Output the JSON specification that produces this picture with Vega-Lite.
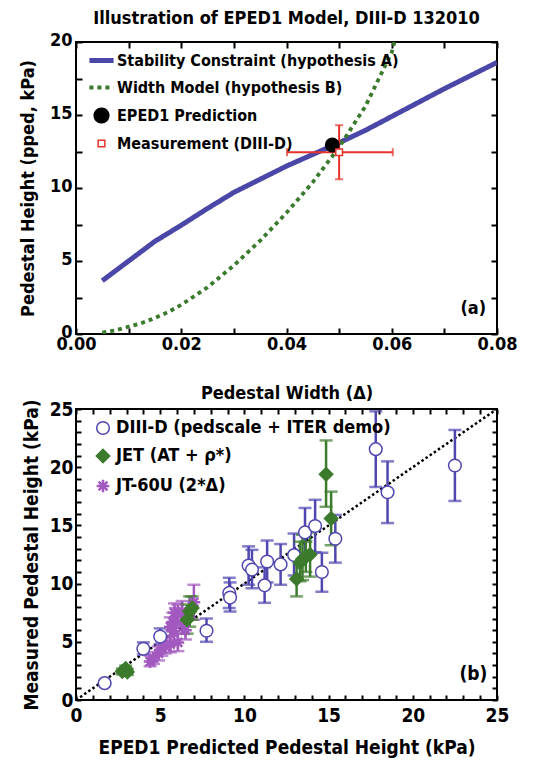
{
  "$schema": "https://vega.github.io/schema/vega-lite/v6.json",
  "background": "white",
  "padding": {"left": 18, "top": 9, "right": 10, "bottom": 5},
  "bounds": "flush",
  "spacing": 75,
  "resolve": {
    "scale": {"stroke": "independent", "fill": "independent", "shape": "independent", "size": "independent", "strokeWidth": "independent", "strokeDash": "independent", "color": "independent"},
    "legend": {"stroke": "independent", "fill": "independent", "shape": "independent", "size": "independent", "strokeWidth": "independent", "strokeDash": "independent", "color": "independent"}
  },
  "config": {
    "font": "Liberation Sans Narrow, DejaVu Sans Condensed, Liberation Sans, sans-serif",
    "view": {"stroke": "black", "strokeWidth": 2},
    "title": {"fontWeight": "bold", "color": "black"},
    "axis": {
      "labelFontWeight": "bold", "titleFontWeight": "bold", "labelColor": "black", "titleColor": "black",
      "domain": false, "grid": false, "tickColor": "black", "tickWidth": 2, "tickSize": -6,
      "labelPadding": 10, "labelFlush": false, "labelOverlap": false
    },
    "legend": {"labelFontWeight": "bold", "labelColor": "black", "labelLimit": 500, "padding": 0}
  },
  "datasets": {
    "curves": [
      {"series": "Stability Constraint (hypothesis A)", "x": 0.005, "y": 3.65},
      {"series": "Stability Constraint (hypothesis A)", "x": 0.01, "y": 5.0},
      {"series": "Stability Constraint (hypothesis A)", "x": 0.015, "y": 6.35},
      {"series": "Stability Constraint (hypothesis A)", "x": 0.02, "y": 7.45},
      {"series": "Stability Constraint (hypothesis A)", "x": 0.025, "y": 8.6},
      {"series": "Stability Constraint (hypothesis A)", "x": 0.03, "y": 9.7},
      {"series": "Stability Constraint (hypothesis A)", "x": 0.035, "y": 10.6},
      {"series": "Stability Constraint (hypothesis A)", "x": 0.04, "y": 11.5},
      {"series": "Stability Constraint (hypothesis A)", "x": 0.045, "y": 12.3},
      {"series": "Stability Constraint (hypothesis A)", "x": 0.05, "y": 13.1},
      {"series": "Stability Constraint (hypothesis A)", "x": 0.055, "y": 13.95},
      {"series": "Stability Constraint (hypothesis A)", "x": 0.06, "y": 14.9},
      {"series": "Stability Constraint (hypothesis A)", "x": 0.065, "y": 15.85},
      {"series": "Stability Constraint (hypothesis A)", "x": 0.07, "y": 16.8},
      {"series": "Stability Constraint (hypothesis A)", "x": 0.075, "y": 17.7},
      {"series": "Stability Constraint (hypothesis A)", "x": 0.08, "y": 18.6},
      {"series": "Width Model (hypothesis B)", "x": 0.005, "y": 0.1},
      {"series": "Width Model (hypothesis B)", "x": 0.0075, "y": 0.25},
      {"series": "Width Model (hypothesis B)", "x": 0.01, "y": 0.5},
      {"series": "Width Model (hypothesis B)", "x": 0.0125, "y": 0.75},
      {"series": "Width Model (hypothesis B)", "x": 0.015, "y": 1.1},
      {"series": "Width Model (hypothesis B)", "x": 0.0175, "y": 1.5},
      {"series": "Width Model (hypothesis B)", "x": 0.02, "y": 2.0},
      {"series": "Width Model (hypothesis B)", "x": 0.025, "y": 3.2},
      {"series": "Width Model (hypothesis B)", "x": 0.03, "y": 4.7},
      {"series": "Width Model (hypothesis B)", "x": 0.035, "y": 6.4},
      {"series": "Width Model (hypothesis B)", "x": 0.04, "y": 8.3},
      {"series": "Width Model (hypothesis B)", "x": 0.045, "y": 10.4},
      {"series": "Width Model (hypothesis B)", "x": 0.05, "y": 12.8},
      {"series": "Width Model (hypothesis B)", "x": 0.055, "y": 15.6},
      {"series": "Width Model (hypothesis B)", "x": 0.06, "y": 19.3},
      {"series": "Width Model (hypothesis B)", "x": 0.0605, "y": 20}
    ],
    "meas": [{"x": 0.05, "y": 12.45, "xlo": 0.0401, "xhi": 0.0602, "ylo": 10.6, "yhi": 14.3}],
    "eped": [
      {"series": "EPED1 Prediction", "x": 0.0487, "y": 12.95},
      {"series": "Measurement (DIII-D)", "x": 0.05, "y": 12.45}
    ],
    "labelA": [{"x": 0.0755, "y": 1.7, "t": "(a)"}],
    "labelB": [{"x": 23.6, "y": 2.2, "t": "(b)"}],
    "diag": [{"x": 0, "y": 0}, {"x": 25, "y": 25}],
    "bdata": [
      {"s": "JT-60U (2*Δ)", "x": 4.4, "y": 3.3, "lo": 2.9, "hi": 3.8},
      {"s": "JT-60U (2*Δ)", "x": 4.6, "y": 3.6, "lo": 3.1, "hi": 4.1},
      {"s": "JT-60U (2*Δ)", "x": 4.9, "y": 4.0, "lo": 3.4, "hi": 4.6},
      {"s": "JT-60U (2*Δ)", "x": 5.1, "y": 4.4, "lo": 3.8, "hi": 5.0},
      {"s": "JT-60U (2*Δ)", "x": 5.3, "y": 4.6, "lo": 4.0, "hi": 5.3},
      {"s": "JT-60U (2*Δ)", "x": 5.6, "y": 4.8, "lo": 4.1, "hi": 5.5},
      {"s": "JT-60U (2*Δ)", "x": 6.05, "y": 4.95, "lo": 4.2, "hi": 5.7},
      {"s": "JT-60U (2*Δ)", "x": 5.8, "y": 5.9, "lo": 5.1, "hi": 6.7},
      {"s": "JT-60U (2*Δ)", "x": 5.6, "y": 6.3, "lo": 5.5, "hi": 7.1},
      {"s": "JT-60U (2*Δ)", "x": 5.75, "y": 6.7, "lo": 5.9, "hi": 7.5},
      {"s": "JT-60U (2*Δ)", "x": 5.9, "y": 7.1, "lo": 6.3, "hi": 7.9},
      {"s": "JT-60U (2*Δ)", "x": 6.05, "y": 7.35, "lo": 6.5, "hi": 8.2},
      {"s": "JT-60U (2*Δ)", "x": 6.3, "y": 7.6, "lo": 6.7, "hi": 8.5},
      {"s": "JT-60U (2*Δ)", "x": 5.85, "y": 7.5, "lo": 6.7, "hi": 8.3},
      {"s": "JT-60U (2*Δ)", "x": 6.3, "y": 6.5, "lo": 5.7, "hi": 7.3},
      {"s": "JT-60U (2*Δ)", "x": 6.5, "y": 6.0, "lo": 5.2, "hi": 6.8},
      {"s": "JT-60U (2*Δ)", "x": 7.0, "y": 8.4, "lo": 6.9, "hi": 9.9},
      {"s": "DIII-D (pedscale + ITER demo)", "x": 1.7, "y": 1.45, "lo": 1.45, "hi": 1.45},
      {"s": "DIII-D (pedscale + ITER demo)", "x": 4.0, "y": 4.4, "lo": 3.9, "hi": 4.95},
      {"s": "DIII-D (pedscale + ITER demo)", "x": 5.0, "y": 5.45, "lo": 4.8, "hi": 6.15},
      {"s": "DIII-D (pedscale + ITER demo)", "x": 7.75, "y": 5.95, "lo": 5.0, "hi": 7.0},
      {"s": "DIII-D (pedscale + ITER demo)", "x": 9.1, "y": 9.2, "lo": 7.9, "hi": 10.5},
      {"s": "DIII-D (pedscale + ITER demo)", "x": 9.15, "y": 8.8, "lo": 7.6, "hi": 10.1},
      {"s": "DIII-D (pedscale + ITER demo)", "x": 10.25, "y": 11.55, "lo": 9.9, "hi": 13.2},
      {"s": "DIII-D (pedscale + ITER demo)", "x": 10.45, "y": 11.2, "lo": 9.6, "hi": 12.9},
      {"s": "DIII-D (pedscale + ITER demo)", "x": 11.2, "y": 9.85, "lo": 8.35, "hi": 11.4},
      {"s": "DIII-D (pedscale + ITER demo)", "x": 11.35, "y": 11.9, "lo": 10.1, "hi": 13.7},
      {"s": "DIII-D (pedscale + ITER demo)", "x": 12.15, "y": 11.65, "lo": 9.9, "hi": 13.4},
      {"s": "DIII-D (pedscale + ITER demo)", "x": 12.95, "y": 12.45, "lo": 10.7, "hi": 14.3},
      {"s": "DIII-D (pedscale + ITER demo)", "x": 13.6, "y": 14.4, "lo": 12.2, "hi": 16.5},
      {"s": "DIII-D (pedscale + ITER demo)", "x": 14.2, "y": 14.95, "lo": 12.7, "hi": 17.2},
      {"s": "DIII-D (pedscale + ITER demo)", "x": 14.6, "y": 11.0, "lo": 9.3, "hi": 12.65},
      {"s": "DIII-D (pedscale + ITER demo)", "x": 15.4, "y": 13.85, "lo": 11.8, "hi": 15.9},
      {"s": "DIII-D (pedscale + ITER demo)", "x": 17.8, "y": 21.55, "lo": 18.3, "hi": 24.8},
      {"s": "DIII-D (pedscale + ITER demo)", "x": 18.5, "y": 17.85, "lo": 15.2, "hi": 20.5},
      {"s": "DIII-D (pedscale + ITER demo)", "x": 22.5, "y": 20.15, "lo": 17.1, "hi": 23.2},
      {"s": "JET (AT + ρ*)", "x": 2.75, "y": 2.45, "lo": 2.2, "hi": 2.7},
      {"s": "JET (AT + ρ*)", "x": 2.95, "y": 2.7, "lo": 2.45, "hi": 2.95},
      {"s": "JET (AT + ρ*)", "x": 3.05, "y": 2.4, "lo": 2.15, "hi": 2.65},
      {"s": "JET (AT + ρ*)", "x": 6.6, "y": 6.9, "lo": 5.7, "hi": 8.2},
      {"s": "JET (AT + ρ*)", "x": 6.75, "y": 7.6, "lo": 6.3, "hi": 8.9},
      {"s": "JET (AT + ρ*)", "x": 6.9, "y": 7.9, "lo": 6.9, "hi": 8.9},
      {"s": "JET (AT + ρ*)", "x": 13.1, "y": 10.4, "lo": 8.9, "hi": 12.3},
      {"s": "JET (AT + ρ*)", "x": 13.3, "y": 11.8, "lo": 10.2, "hi": 13.6},
      {"s": "JET (AT + ρ*)", "x": 13.45, "y": 12.1, "lo": 10.3, "hi": 14.2},
      {"s": "JET (AT + ρ*)", "x": 13.9, "y": 12.5, "lo": 10.6, "hi": 14.4},
      {"s": "JET (AT + ρ*)", "x": 13.65, "y": 12.3, "lo": 11.0, "hi": 13.6},
      {"s": "JET (AT + ρ*)", "x": 14.85, "y": 19.4, "lo": 16.6, "hi": 22.3},
      {"s": "JET (AT + ρ*)", "x": 15.15, "y": 15.6, "lo": 13.3, "hi": 17.9}
    ]
  },
  "vconcat": [
    {
      "width": 421,
      "height": 292,
      "title": {"text": "Illustration of EPED1 Model, DIII-D 132010", "fontSize": 18, "offset": 3},
      "resolve": {"axis": {"x": "independent", "y": "independent"}},
      "layer": [
        {
          "data": {"name": "curves"},
          "mark": {"type": "line", "clip": true, "strokeCap": "butt"},
          "encoding": {
            "x": {"field": "x", "type": "quantitative", "scale": {"domain": [0, 0.08], "nice": false, "zero": false},
              "axis": {"values": [0, 0.01, 0.02, 0.03, 0.04, 0.05, 0.06, 0.07, 0.08], "format": ".2f",
                "labelExpr": "round(datum.value*100) % 2 == 0 ? datum.label : ''", "labelPadding": 7,
                "labelFontSize": 18, "title": "Pedestal Width (Δ)", "titleFontSize": 18, "titlePadding": 31}},
            "y": {"field": "y", "type": "quantitative", "scale": {"domain": [0, 20], "nice": false},
              "axis": {"values": [0, 2.5, 5, 7.5, 10, 12.5, 15, 17.5, 20],
                "labelExpr": "datum.value % 5 == 0 ? datum.label : ''", "labelOffset": -2,
                "labelFontSize": 18, "title": "Pedestal Height (pped, kPa)", "titleFontSize": 18, "titlePadding": 12}},
            "stroke": {"field": "series", "type": "nominal", "title": null,
              "scale": {"domain": ["Stability Constraint (hypothesis A)", "Width Model (hypothesis B)", "EPED1 Prediction", "Measurement (DIII-D)"], "range": ["#4B47A8", "#3A7A2C", "black", "#E5332A"]},
              "legend": {"orient": "none", "legendX": 16, "legendY": 9, "labelFontSize": 16, "labelOffset": 6, "rowPadding": 7.5, "symbolSize": 180}},
            "strokeDash": {"field": "series", "type": "nominal", "title": null,
              "scale": {"domain": ["Stability Constraint (hypothesis A)", "Width Model (hypothesis B)", "EPED1 Prediction", "Measurement (DIII-D)"], "range": [[1, 0], [4, 4], [1, 0], [1, 0]]},
              "legend": {"orient": "none", "legendX": 16, "legendY": 9, "labelFontSize": 16, "labelOffset": 6, "rowPadding": 7.5, "symbolSize": 180}},
            "strokeWidth": {"field": "series", "type": "nominal", "title": null,
              "scale": {"type": "point", "padding": 0, "domain": ["Stability Constraint (hypothesis A)", "Width Model (hypothesis B)", "EPED1 Prediction", "Measurement (DIII-D)"], "range": [5, 1.5]},
              "legend": {"orient": "none", "legendX": 16, "legendY": 9, "labelFontSize": 16, "labelOffset": 6, "rowPadding": 7.5, "symbolSize": 180}}
          }
        },
        {
          "data": {"name": "meas"},
          "mark": {"type": "rule", "color": "#E5332A", "strokeWidth": 2},
          "encoding": {
            "x": {"field": "xlo", "type": "quantitative", "scale": {"domain": [0, 0.08], "nice": false, "zero": false}, "axis": null},
            "x2": {"field": "xhi"},
            "y": {"field": "y", "type": "quantitative", "scale": {"domain": [0, 20], "nice": false}, "axis": null}
          }
        },
        {
          "data": {"name": "meas"},
          "mark": {"type": "rule", "color": "#E5332A", "strokeWidth": 2},
          "encoding": {
            "x": {"field": "x", "type": "quantitative", "scale": {"domain": [0, 0.08], "nice": false, "zero": false}, "axis": null},
            "y": {"field": "ylo", "type": "quantitative", "scale": {"domain": [0, 20], "nice": false}, "axis": null},
            "y2": {"field": "yhi"}
          }
        },
        {
          "data": {"name": "meas"},
          "mark": {"type": "tick", "orient": "horizontal", "color": "#E5332A", "size": 8, "thickness": 2},
          "encoding": {
            "x": {"field": "x", "type": "quantitative", "scale": {"domain": [0, 0.08], "nice": false, "zero": false}, "axis": null},
            "y": {"field": "ylo", "type": "quantitative", "scale": {"domain": [0, 20], "nice": false}, "axis": null}
          }
        },
        {
          "data": {"name": "meas"},
          "mark": {"type": "tick", "orient": "horizontal", "color": "#E5332A", "size": 8, "thickness": 2},
          "encoding": {
            "x": {"field": "x", "type": "quantitative", "scale": {"domain": [0, 0.08], "nice": false, "zero": false}, "axis": null},
            "y": {"field": "yhi", "type": "quantitative", "scale": {"domain": [0, 20], "nice": false}, "axis": null}
          }
        },
        {
          "data": {"name": "meas"},
          "mark": {"type": "tick", "orient": "vertical", "color": "#E5332A", "size": 8, "thickness": 2},
          "encoding": {
            "x": {"field": "xlo", "type": "quantitative", "scale": {"domain": [0, 0.08], "nice": false, "zero": false}, "axis": null},
            "y": {"field": "y", "type": "quantitative", "scale": {"domain": [0, 20], "nice": false}, "axis": null}
          }
        },
        {
          "data": {"name": "meas"},
          "mark": {"type": "tick", "orient": "vertical", "color": "#E5332A", "size": 8, "thickness": 2},
          "encoding": {
            "x": {"field": "xhi", "type": "quantitative", "scale": {"domain": [0, 0.08], "nice": false, "zero": false}, "axis": null},
            "y": {"field": "y", "type": "quantitative", "scale": {"domain": [0, 20], "nice": false}, "axis": null}
          }
        },
        {
          "data": {"name": "eped"},
          "mark": {"type": "point", "filled": true, "strokeWidth": 1.5, "opacity": 1, "size": 180},
          "encoding": {
            "x": {"field": "x", "type": "quantitative", "scale": {"domain": [0, 0.08], "nice": false, "zero": false},
              "axis": {"orient": "top", "labels": false, "title": null, "values": [0, 0.01, 0.02, 0.03, 0.04, 0.05, 0.06, 0.07, 0.08]}},
            "y": {"field": "y", "type": "quantitative", "scale": {"domain": [0, 20], "nice": false},
              "axis": {"orient": "right", "labels": false, "title": null, "values": [0, 2.5, 5, 7.5, 10, 12.5, 15, 17.5, 20]}},
            "stroke": {"field": "series", "type": "nominal", "title": null,
              "scale": {"domain": ["Stability Constraint (hypothesis A)", "Width Model (hypothesis B)", "EPED1 Prediction", "Measurement (DIII-D)"], "range": ["#4B47A8", "#3A7A2C", "black", "#E5332A"]},
              "legend": {"orient": "none", "legendX": 16, "legendY": 9, "labelFontSize": 16, "labelOffset": 6, "rowPadding": 7.5, "symbolSize": 180}},
            "fill": {"field": "series", "type": "nominal", "title": null,
              "scale": {"domain": ["Stability Constraint (hypothesis A)", "Width Model (hypothesis B)", "EPED1 Prediction", "Measurement (DIII-D)"], "range": ["transparent", "transparent", "black", "white"]},
              "legend": {"orient": "none", "legendX": 16, "legendY": 9, "labelFontSize": 16, "labelOffset": 6, "rowPadding": 7.5, "symbolSize": 180}},
            "shape": {"field": "series", "type": "nominal", "title": null,
              "scale": {"domain": ["Stability Constraint (hypothesis A)", "Width Model (hypothesis B)", "EPED1 Prediction", "Measurement (DIII-D)"], "range": ["M-1.8,0H1.8", "M-1.8,0H1.8", "circle", "M-0.5,-0.5H0.5V0.5H-0.5Z"]},
              "legend": {"orient": "none", "legendX": 16, "legendY": 9, "labelFontSize": 16, "labelOffset": 6, "rowPadding": 7.5, "symbolSize": 180}}
          }
        },
        {
          "data": {"name": "labelA"},
          "mark": {"type": "text", "fontSize": 18, "fontWeight": "bold", "color": "black"},
          "encoding": {
            "x": {"field": "x", "type": "quantitative", "scale": {"domain": [0, 0.08], "nice": false, "zero": false}, "axis": null},
            "y": {"field": "y", "type": "quantitative", "scale": {"domain": [0, 20], "nice": false}, "axis": null},
            "text": {"field": "t"}
          }
        }
      ]
    },
    {
      "width": 421,
      "height": 291,
      "resolve": {"axis": {"x": "independent", "y": "independent"}},
      "layer": [
        {
          "data": {"name": "diag"},
          "mark": {"type": "line", "color": "black", "strokeWidth": 2.5, "strokeDash": [2.5, 2.5]},
          "encoding": {
            "x": {"field": "x", "type": "quantitative", "scale": {"domain": [0, 25], "nice": false},
              "axis": {"values": [0,1,2,3,4,5,6,7,8,9,10,11,12,13,14,15,16,17,18,19,20,21,22,23,24,25],
                "labelExpr": "datum.value % 5 == 0 ? datum.label : ''", "tickSize": -5,
                "labelFontSize": 19, "labelPadding": 11, "title": "EPED1 Predicted Pedestal Height (kPa)", "titleFontSize": 19, "titlePadding": 13}},
            "y": {"field": "y", "type": "quantitative", "scale": {"domain": [0, 25], "nice": false},
              "axis": {"values": [0,1,2,3,4,5,6,7,8,9,10,11,12,13,14,15,16,17,18,19,20,21,22,23,24,25],
                "labelExpr": "datum.value % 5 == 0 ? datum.label : ''", "tickSize": -5,
                "labelFontSize": 19, "labelPadding": 8, "title": "Measured Pedestal Height (kPa)", "titleFontSize": 19, "titlePadding": 8}}
          }
        },
        {
          "data": {"name": "bdata"},
          "mark": {"type": "rule", "strokeWidth": 2.5},
          "encoding": {
            "x": {"field": "x", "type": "quantitative", "scale": {"domain": [0, 25], "nice": false}, "axis": null},
            "y": {"field": "lo", "type": "quantitative", "scale": {"domain": [0, 25], "nice": false}, "axis": null},
            "y2": {"field": "hi"},
            "color": {"field": "s", "type": "nominal", "legend": null,
              "scale": {"domain": ["JT-60U (2*Δ)", "JET (AT + ρ*)", "DIII-D (pedscale + ITER demo)"], "range": ["#A259BF", "#3C7A2C", "#4F46B0"]}}
          }
        },
        {
          "data": {"name": "bdata"},
          "mark": {"type": "tick", "orient": "horizontal", "size": 13, "thickness": 2.5},
          "encoding": {
            "x": {"field": "x", "type": "quantitative", "scale": {"domain": [0, 25], "nice": false}, "axis": null},
            "y": {"field": "lo", "type": "quantitative", "scale": {"domain": [0, 25], "nice": false}, "axis": null},
            "color": {"field": "s", "type": "nominal", "legend": null,
              "scale": {"domain": ["JT-60U (2*Δ)", "JET (AT + ρ*)", "DIII-D (pedscale + ITER demo)"], "range": ["#A259BF", "#3C7A2C", "#4F46B0"]}}
          }
        },
        {
          "data": {"name": "bdata"},
          "mark": {"type": "tick", "orient": "horizontal", "size": 13, "thickness": 2.5},
          "encoding": {
            "x": {"field": "x", "type": "quantitative", "scale": {"domain": [0, 25], "nice": false}, "axis": null},
            "y": {"field": "hi", "type": "quantitative", "scale": {"domain": [0, 25], "nice": false}, "axis": null},
            "color": {"field": "s", "type": "nominal", "legend": null,
              "scale": {"domain": ["JT-60U (2*Δ)", "JET (AT + ρ*)", "DIII-D (pedscale + ITER demo)"], "range": ["#A259BF", "#3C7A2C", "#4F46B0"]}}
          }
        },
        {
          "data": {"name": "bdata"},
          "mark": {"type": "point", "filled": true, "opacity": 1, "size": 160},
          "encoding": {
            "x": {"field": "x", "type": "quantitative", "scale": {"domain": [0, 25], "nice": false},
              "axis": {"orient": "top", "labels": false, "title": null, "tickSize": -5, "values": [0,1,2,3,4,5,6,7,8,9,10,11,12,13,14,15,16,17,18,19,20,21,22,23,24,25]}},
            "y": {"field": "y", "type": "quantitative", "scale": {"domain": [0, 25], "nice": false},
              "axis": {"orient": "right", "labels": false, "title": null, "tickSize": -5, "values": [0,1,2,3,4,5,6,7,8,9,10,11,12,13,14,15,16,17,18,19,20,21,22,23,24,25]}},
            "stroke": {"field": "s", "type": "nominal", "title": null,
              "scale": {"domain": ["DIII-D (pedscale + ITER demo)", "JET (AT + ρ*)", "JT-60U (2*Δ)"], "range": ["#4F46B0", "#3C7A2C", "#A259BF"]},
              "legend": {"orient": "none", "legendX": 18, "legendY": 10, "labelFontSize": 18, "labelOffset": 4, "rowPadding": 7, "symbolSize": 160}},
            "fill": {"field": "s", "type": "nominal", "title": null,
              "scale": {"domain": ["DIII-D (pedscale + ITER demo)", "JET (AT + ρ*)", "JT-60U (2*Δ)"], "range": ["white", "#3C7A2C", "transparent"]},
              "legend": {"orient": "none", "legendX": 18, "legendY": 10, "labelFontSize": 18, "labelOffset": 4, "rowPadding": 7, "symbolSize": 160}},
            "shape": {"field": "s", "type": "nominal", "title": null,
              "scale": {"domain": ["DIII-D (pedscale + ITER demo)", "JET (AT + ρ*)", "JT-60U (2*Δ)"], "range": ["circle", "diamond", "M-1,0L1,0M0,-1L0,1M-0.7,-0.7L0.7,0.7M-0.7,0.7L0.7,-0.7"]},
              "legend": {"orient": "none", "legendX": 18, "legendY": 10, "labelFontSize": 18, "labelOffset": 4, "rowPadding": 7, "symbolSize": 160}},
            "strokeWidth": {"field": "s", "type": "nominal", "title": null,
              "scale": {"type": "point", "padding": 0, "domain": ["DIII-D (pedscale + ITER demo)", "JET (AT + ρ*)", "JT-60U (2*Δ)"], "range": [1.5, 2.5]},
              "legend": {"orient": "none", "legendX": 18, "legendY": 10, "labelFontSize": 18, "labelOffset": 4, "rowPadding": 7, "symbolSize": 160}}
          }
        },
        {
          "data": {"name": "labelB"},
          "mark": {"type": "text", "fontSize": 19, "fontWeight": "bold", "color": "black"},
          "encoding": {
            "x": {"field": "x", "type": "quantitative", "scale": {"domain": [0, 25], "nice": false}, "axis": null},
            "y": {"field": "y", "type": "quantitative", "scale": {"domain": [0, 25], "nice": false}, "axis": null},
            "text": {"field": "t"}
          }
        }
      ]
    }
  ]
}
